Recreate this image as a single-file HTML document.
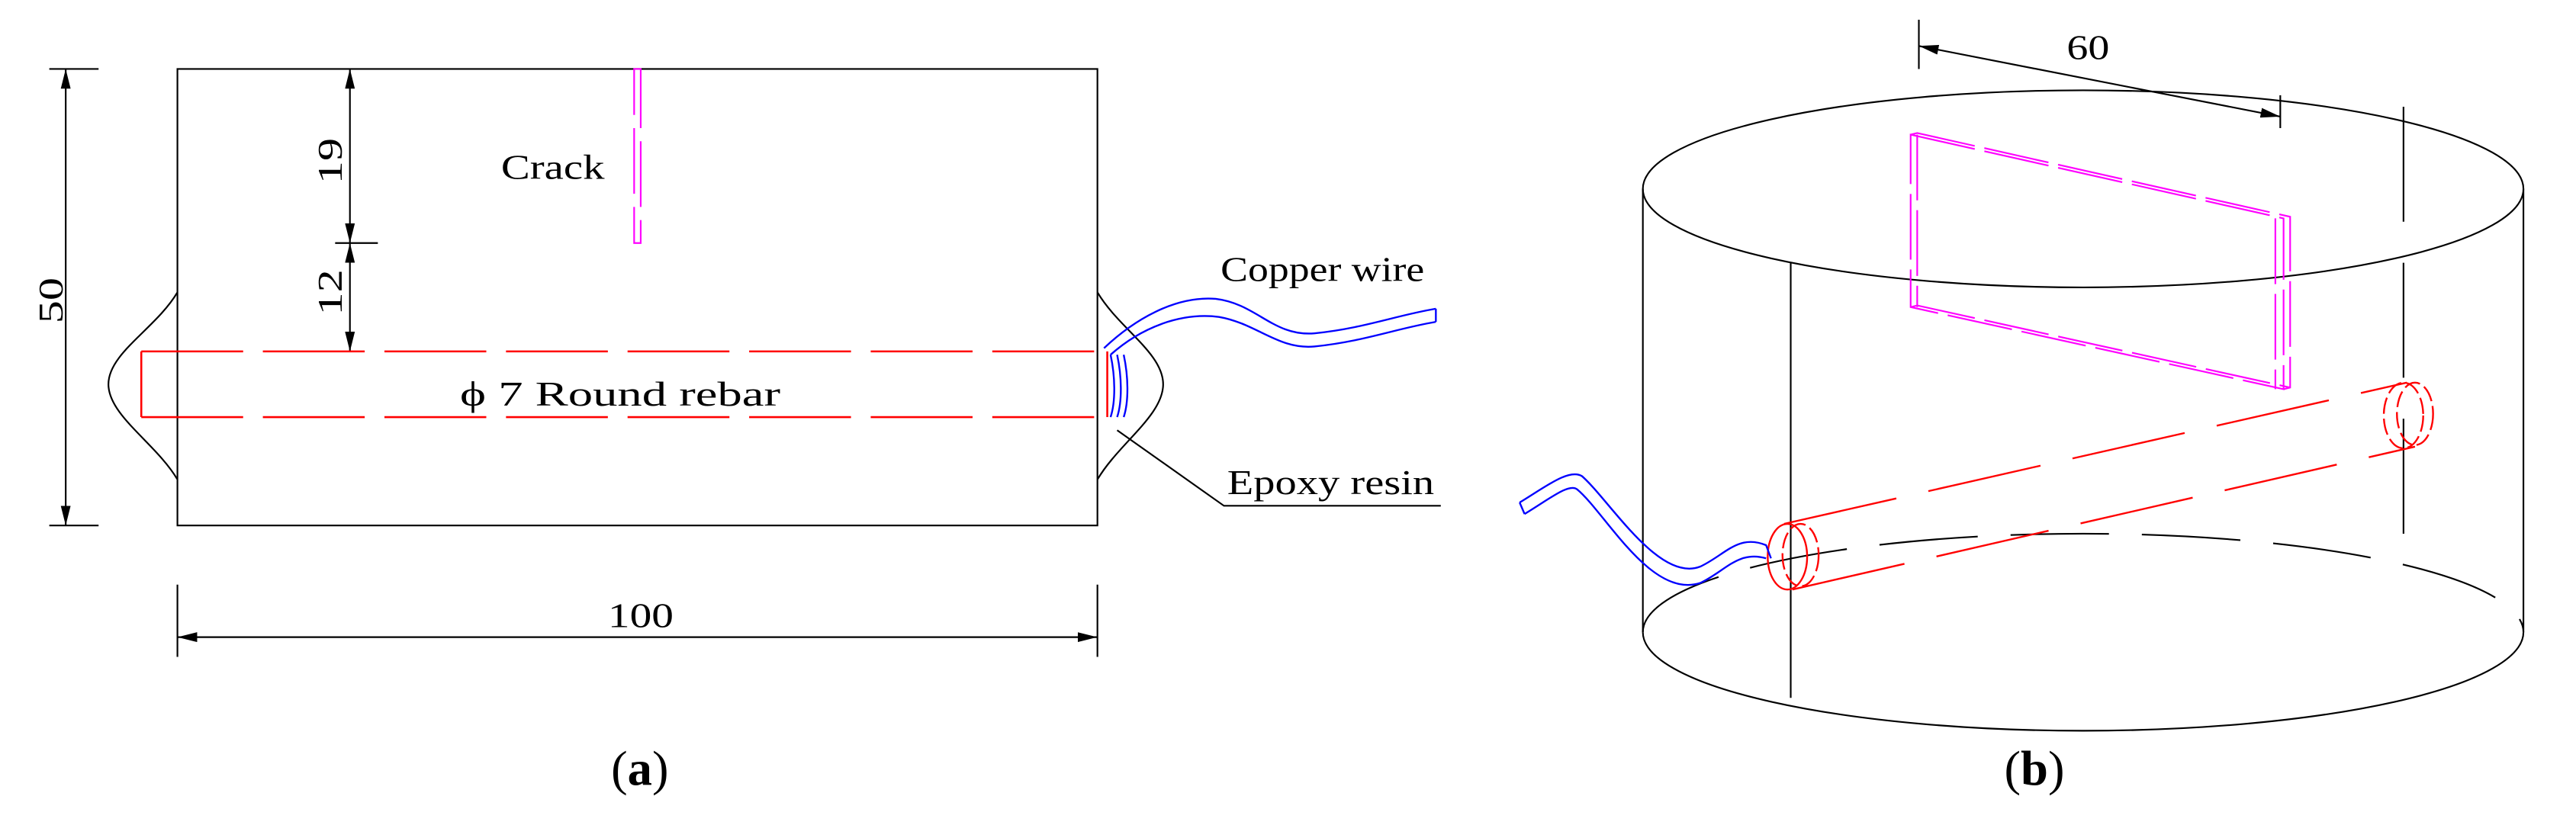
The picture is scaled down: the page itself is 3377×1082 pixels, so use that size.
<!DOCTYPE html>
<html><head><meta charset="utf-8"><style>html,body{margin:0;padding:0;background:#fff}svg{display:block}</style></head>
<body>
<svg width="3377" height="1082" viewBox="0 0 1568 502.4" preserveAspectRatio="none" xmlns="http://www.w3.org/2000/svg" font-family="Liberation Serif, serif">
<defs>
<marker id="ar" markerWidth="12" markerHeight="6" refX="12" refY="3" orient="auto-start-reverse" markerUnits="userSpaceOnUse"><path d="M0,0 L12,3 L0,6z" fill="#000"/></marker>
</defs>
<g fill="none" stroke="#000" stroke-width="1">
<!-- (a) -->
<rect x="108" y="42" width="560" height="278"/>
<line x1="30" y1="42" x2="60" y2="42"/><line x1="30" y1="320" x2="60" y2="320"/>
<line x1="40" y1="42" x2="40" y2="320" marker-start="url(#ar)" marker-end="url(#ar)"/>
<line x1="213" y1="42" x2="213" y2="148" marker-start="url(#ar)" marker-end="url(#ar)"/>
<line x1="213" y1="148" x2="213" y2="214" marker-start="url(#ar)" marker-end="url(#ar)"/>
<line x1="204" y1="148" x2="230" y2="148"/>
<path d="M108,178 C95,200 66,215 66,234 C66,253 95,270 108,292"/>
<path d="M668,178 C681,200 708,215 708,234 C708,253 681,270 668,292"/>
<polyline points="680,262 745,308 877,308"/>
<line x1="108" y1="356" x2="108" y2="400"/><line x1="668" y1="356" x2="668" y2="400"/>
<line x1="108" y1="388" x2="668" y2="388" marker-start="url(#ar)" marker-end="url(#ar)"/>
</g>
<g fill="none" stroke="#f00" stroke-width="1.2">
<line x1="86" y1="214" x2="674" y2="214" stroke-dasharray="62,12"/>
<line x1="86" y1="254" x2="674" y2="254" stroke-dasharray="62,12"/>
<line x1="86" y1="214" x2="86" y2="254"/>
<line x1="674" y1="214" x2="674" y2="254"/>
</g>
<rect x="386" y="42" width="4" height="106" fill="none" stroke="#f0f" stroke-width="1" stroke-dasharray="40,8"/>
<g fill="none" stroke="#00f" stroke-width="1.1">
<path d="M672,212 C690,195 715,180 740,182 C765,185 775,205 800,203 C830,200 850,192 874,188"/>
<path d="M676,216 C694,200 718,190 742,193 C765,197 778,213 800,211 C830,208 850,200 874,196"/>
<line x1="874" y1="188" x2="874" y2="196"/>
<path d="M676,216 C679,230 679,245 676,254 M680,216 C683,230 683,245 680,254 M684,216 C687,230 687,245 684,254"/>
</g>
<g font-size="21" fill="#000">
<text x="305" y="109" textLength="63" lengthAdjust="spacingAndGlyphs">Crack</text>
<text x="280" y="247" textLength="195" lengthAdjust="spacingAndGlyphs">ϕ 7 Round rebar</text>
<text x="743" y="171" textLength="124" lengthAdjust="spacingAndGlyphs">Copper wire</text>
<text x="747" y="301" textLength="126" lengthAdjust="spacingAndGlyphs">Epoxy resin</text>
<text x="370" y="382" textLength="40" lengthAdjust="spacingAndGlyphs">100</text>
<text transform="translate(38,197) rotate(-90)" textLength="28" lengthAdjust="spacingAndGlyphs">50</text>
<text transform="translate(208,112) rotate(-90)" textLength="28" lengthAdjust="spacingAndGlyphs">19</text>
<text transform="translate(208,192) rotate(-90)" textLength="28" lengthAdjust="spacingAndGlyphs">12</text>
</g>
<g font-size="30" fill="#000">
<text x="372" y="478">(<tspan font-weight="bold">a</tspan>)</text>
<text x="1220" y="478">(<tspan font-weight="bold">b</tspan>)</text>
</g>
<!-- (b) -->
<g fill="none" stroke="#000" stroke-width="1">
<ellipse cx="1268" cy="115" rx="268" ry="60"/>
<line x1="1000" y1="115" x2="1000" y2="385"/><line x1="1536" y1="115" x2="1536" y2="385"/>
<path d="M1000,385 A268,60 0 0 0 1536,385"/>
<path d="M1000,385 A268,60 0 0 1 1536,385" stroke-dasharray="60,20"/>
<line x1="1090" y1="160" x2="1090" y2="425"/>
<line x1="1463" y1="65" x2="1463" y2="340" stroke-dasharray="70,25"/>
<line x1="1168" y1="12" x2="1168" y2="42"/><line x1="1388" y1="58" x2="1388" y2="78"/>
<line x1="1168" y1="28" x2="1388" y2="71" marker-start="url(#ar)" marker-end="url(#ar)"/>
</g>
<text x="1258" y="36" font-size="21" textLength="26" lengthAdjust="spacingAndGlyphs">60</text>
<g fill="none" stroke="#f0f" stroke-width="1" stroke-dasharray="40,6">
<path d="M1163,82 L1390,133 L1390,237 L1163,187 Z"/>
<path d="M1167,82 L1167,187 M1385,133 L1385,237 M1163,82 L1167,81 L1394,132 L1394,236 L1390,237 M1163,187 L1167,186 L1394,236"/>
</g>
<g fill="none" stroke="#f00" stroke-width="1.1">
<ellipse cx="1088" cy="339" rx="12" ry="20"/>
<ellipse cx="1096" cy="338" rx="11" ry="19" stroke-dasharray="10,3"/>
<ellipse cx="1463" cy="253" rx="12" ry="20" stroke-dasharray="10,3"/>
<ellipse cx="1470" cy="252" rx="11" ry="19" stroke-dasharray="10,3"/>
<line x1="1086" y1="319" x2="1465" y2="233" stroke-dasharray="70,20"/>
<line x1="1091" y1="359" x2="1470" y2="272" stroke-dasharray="70,20"/>
</g>
<g fill="none" stroke="#00f" stroke-width="1.1">
<path d="M925,306 C940,297 955,285 963,290 C980,305 1010,355 1035,345 C1050,338 1058,325 1075,332 L1078,340"/>
<path d="M928,313 C943,304 955,294 960,298 C977,312 1005,365 1035,355 C1050,348 1058,335 1075,340"/>
<line x1="925" y1="306" x2="928" y2="313"/>
</g>
</svg>
</body></html>
